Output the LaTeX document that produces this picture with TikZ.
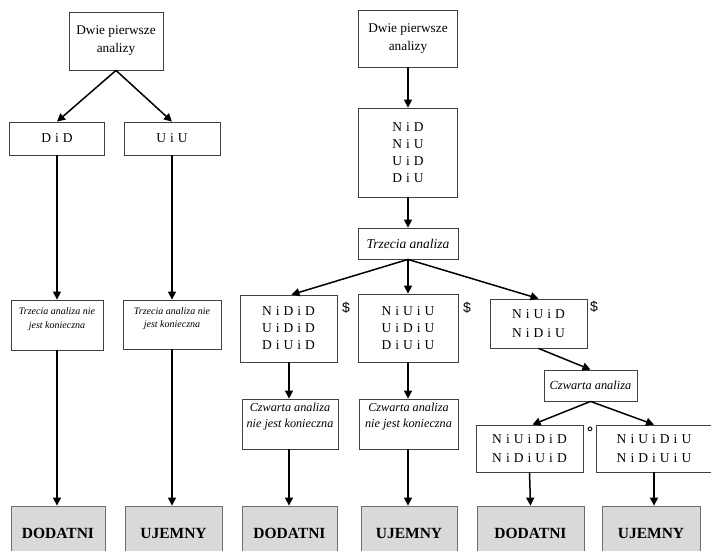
\documentclass[tikz,border=0pt]{standalone}
\usepackage{fontspec}
\setmainfont{Liberation Serif}
\newfontfamily\sansfam{Liberation Sans}
\newfontfamily\spacedfam[LetterSpace=5]{Liberation Serif}
\usetikzlibrary{arrows.meta}

\definecolor{boxline}{RGB}{64,64,64}
\definecolor{endfill}{RGB}{217,217,217}
\definecolor{endline}{RGB}{110,110,110}

\tikzset{
  box/.style={draw=boxline, line width=0.8pt, rectangle, inner sep=0pt, align=center},
  endbox/.style={draw=endline, fill=endfill, line width=0.8pt, rectangle, inner sep=0pt,
    align=center, font=\bfseries\fontsize{15.5}{18}\selectfont},
  pairs/.style={font=\spacedfam\fontsize{13.5}{17}\selectfont},
  headtext/.style={font=\fontsize{13.3}{18}\selectfont},
  noteit/.style={font=\itshape\fontsize{10}{13.5}\selectfont},
  stepit/.style={font=\itshape\fontsize{12.2}{16}\selectfont},
  arr/.style={line width=1.5pt, -{Triangle[length=8pt,width=8pt]}},
  mark sign/.style={font=\sansfam\fontsize{14}{16}\selectfont, inner sep=0pt}
}

\begin{document}
\begin{tikzpicture}[x=1pt, y=-1pt]
\useasboundingbox (0,0) rectangle (711,550);
\clip (0,0) rectangle (711,550);

% ---- left tree ----
\node[box, headtext, minimum width=94pt, minimum height=58pt] (topL) at (116,41) {Dwie pierwsze\\analizy};
\node[box, pairs, minimum width=95pt, minimum height=33pt] (did) at (57,138.5) {D i D};
\node[box, pairs, minimum width=96pt, minimum height=33pt] (uiu) at (172,138.5) {U i U};
\node[box, noteit, minimum width=92pt, minimum height=50pt] (noteA) at (57,325) {Trzecia analiza nie\\jest konieczna\\\mbox{}};
\node[box, noteit, minimum width=98pt, minimum height=49pt] (noteB) at (172,324.5) {Trzecia analiza nie\\jest konieczna\\\mbox{}};
\node[endbox, minimum width=94pt, minimum height=54pt] (posA) at (58,533) {DODATNI};
\node[endbox, minimum width=97pt, minimum height=54pt] (negA) at (173.5,533) {UJEMNY};

\draw[arr] (topL.south) -- (did.north);
\draw[arr] (topL.south) -- (uiu.north);
\draw[arr] (did.south) -- (did.south |- noteA.north);
\draw[arr] (uiu.south) -- (uiu.south |- noteB.north);
\draw[arr] (noteA.south) -- (noteA.south |- posA.north);
\draw[arr] (noteB.south) -- (noteB.south |- negA.north);

% ---- right tree ----
\node[box, headtext, minimum width=99pt, minimum height=57pt] (topR) at (408,38.5) {Dwie pierwsze\\analizy};
\node[box, pairs, minimum width=99pt, minimum height=89pt] (mixed) at (408,152.5) {N i D\\N i U\\U i D\\D i U};
\node[box, font=\itshape\fontsize{13.5}{16}\selectfont, minimum width=100pt, minimum height=31pt] (third) at (408,243.5) {Trzecia analiza};

\node[box, pairs, minimum width=97pt, minimum height=67pt] (grpA) at (288.5,328.5) {N i D i D\\U i D i D\\D i U i D};
\node[box, pairs, minimum width=100pt, minimum height=68pt] (grpB) at (408,328) {N i U i U\\U i D i U\\D i U i U};
\node[box, pairs, font=\spacedfam\fontsize{13.5}{19}\selectfont, minimum width=97pt, minimum height=49pt] (grpC) at (538.5,323.5) {N i U i D\\N i D i U};

\node[mark sign] (signA) at (346,308) {\$};
\node[mark sign] (signB) at (467,308) {\$};
\node[mark sign] (signC) at (594,307) {\$};

\node[box, stepit, minimum width=96pt, minimum height=50pt] (noteC) at (290,424) {Czwarta analiza\\nie jest konieczna\\[2pt]};
\node[box, stepit, minimum width=99pt, minimum height=50pt] (noteD) at (408.5,424) {Czwarta analiza\\nie jest konieczna\\[2pt]};
\node[box, font=\itshape\fontsize{12.4}{16}\selectfont, minimum width=93pt, minimum height=31pt] (fourth) at (590.5,385.5) {Czwarta analiza};

\node[box, pairs, font=\spacedfam\fontsize{13.5}{19}\selectfont, minimum width=107pt, minimum height=47pt] (grpD) at (529.5,448.5) {N i U i D i D\\N i D i U i D};
\node[box, pairs, font=\spacedfam\fontsize{13.5}{19}\selectfont, minimum width=116pt, minimum height=47pt] (grpE) at (654,448.5) {N i U i D i U\\N i D i U i U};
\node[font=\sansfam\bfseries\fontsize{15}{16}\selectfont, inner sep=0pt] (ring) at (590,432) {°};

\node[endbox, minimum width=95pt, minimum height=54pt] (posB) at (289.5,533) {DODATNI};
\node[endbox, minimum width=96pt, minimum height=54pt] (negB) at (409,533) {UJEMNY};
\node[endbox, minimum width=107pt, minimum height=54pt] (posC) at (530.5,533) {DODATNI};
\node[endbox, minimum width=98pt, minimum height=54pt] (negC) at (651,533) {UJEMNY};

\draw[arr] (topR.south) -- (mixed.north);
\draw[arr] (mixed.south) -- (third.north);
\draw[arr] (third.south) -- ([xshift=3pt]grpA.north);
\draw[arr] (third.south) -- (grpB.north);
\draw[arr] (third.south) -- (grpC.north);
\draw[arr] (grpC.south) -- (fourth.north);
\draw[arr] (fourth.south) -- ([xshift=3pt]grpD.north);
\draw[arr] (fourth.south) -- (grpE.north);
\draw[arr] ([xshift=0.5pt]grpA.south) -- ([xshift=0.5pt]grpA.south |- noteC.north);
\draw[arr] (grpB.south) -- (grpB.south |- noteD.north);
\draw[arr] ([xshift=-1pt]noteC.south) -- ([xshift=-1pt]noteC.south |- posB.north);
\draw[arr] ([xshift=-0.5pt]noteD.south) -- ([xshift=-0.5pt]noteD.south |- negB.north);
\draw[arr] (grpD.south) -- (posC.north);
\draw[arr] (grpE.south) -- (grpE.south |- negC.north);
\end{tikzpicture}
\end{document}
